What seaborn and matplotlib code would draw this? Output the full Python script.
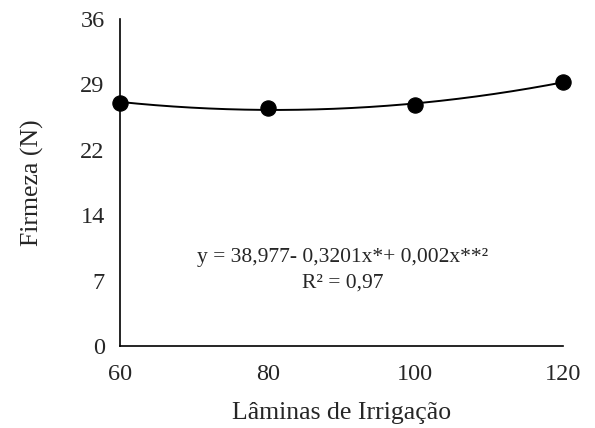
import numpy as np
import pandas as pd
import matplotlib
matplotlib.use("Agg")
import matplotlib.pyplot as plt
import seaborn as sns

laminas = [60, 80, 100, 120]
firmeza = [26.8, 26.2, 26.5, 29.1]
yticks = [0, 7.2, 14.4, 21.6, 28.8, 36]
yticklabels = ["0", "7", "14", "22", "29", "36"]
xticks = [60, 80, 100, 120]
equation = "y = 38,977- 0,3201x*+ 0,002x**²"
r2_text = "R² = 0,97"

sns.set_style("white")
plt.rcParams["font.family"] = ["Liberation Serif", "DejaVu Serif"]

df = pd.DataFrame({"x": laminas, "y": firmeza})
coef = np.polyfit(df["x"], df["y"], 2)
xs = np.linspace(min(laminas), max(laminas), 200)
fit = pd.DataFrame({"x": xs, "y": np.polyval(coef, xs)})

fig = plt.figure(figsize=(5.95, 4.28), dpi=100)
ax = fig.add_axes([0.2017, 0.1916, 0.7445, 0.764])

sns.lineplot(data=fit, x="x", y="y", ax=ax, color="black", linewidth=1.4)
sns.scatterplot(data=df, x="x", y="y", ax=ax, color="black", s=120,
                edgecolor="black", zorder=5, clip_on=False)

ax.set_xlim(60, 120)
ax.set_ylim(0, 36)
ax.set_xticks(xticks)
ax.set_xticklabels([str(v) for v in xticks], fontsize=17.5)
ax.set_yticks(yticks)
ax.set_yticklabels(yticklabels, fontsize=17.5)
ax.tick_params(axis="both", direction="out", length=5, width=1.2, color="black",
               pad=6)
ax.tick_params(axis="x", pad=8)
for side in ["top", "right"]:
    ax.spines[side].set_visible(False)
for side in ["left", "bottom"]:
    ax.spines[side].set_color("black")
    ax.spines[side].set_linewidth(1.2)

ax.set_xlabel("Lâminas de Irrigação", fontsize=18.5, labelpad=12)
ax.set_ylabel("Firmeza (N)", fontsize=18.5, labelpad=26)

ax.text(90.2, 9.7, equation, ha="center", va="center", fontsize=15.5)
ax.text(90.2, 6.9, r2_text, ha="center", va="center", fontsize=15.5)

fig.savefig("out.png", dpi=100)
